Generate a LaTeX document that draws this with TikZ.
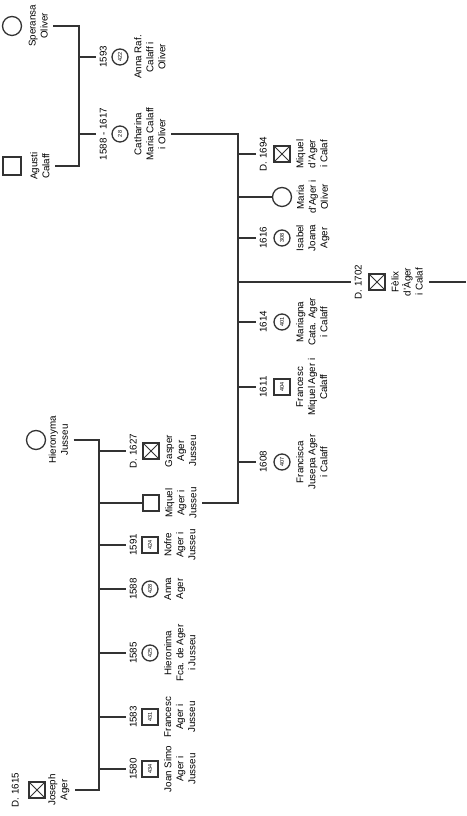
\documentclass[tikz,border=0pt]{standalone}
\usepackage{fontspec}
\setmainfont{Liberation Sans}
\usetikzlibrary{positioning}
\definecolor{ink}{HTML}{333333}

\begin{document}
\begin{tikzpicture}[x=1pt,y=-1pt,rotate=90,transform shape,
  font=\fontsize{9.8}{12}\selectfont,
  rel/.style={draw=ink,line width=1.4pt},
  male/.style={rectangle,draw=ink,line width=1.3pt,minimum size=16pt,inner sep=0pt},
  female/.style={circle,draw=ink,line width=1.3pt,minimum size=19pt,inner sep=0pt},
  fnum/.style={female,minimum size=16pt,font=\fontsize{5.5}{5.5}\selectfont},
  mnum/.style={male,font=\fontsize{5.5}{5.5}\selectfont},
  dead/.style={male,path picture={\draw[ink,line width=.8pt]
      (path picture bounding box.north west) -- (path picture bounding box.south east)
      (path picture bounding box.south west) -- (path picture bounding box.north east);}},
  who/.style={align=center,inner sep=.5pt},
  yr/.style={inner sep=.5pt}]
\useasboundingbox (0,0) rectangle (816,466);

% bus lines of the three couples
\coordinate (calaf) at (0,79);
\coordinate (ager) at (0,99);
\coordinate (main) at (0,238);
\coordinate (out) at (0,466);

% Agusti Calaff x Speransa Oliver
\node[female] (spe) at (790,12) {};
\node[who,below=6pt of spe] (speN) {Speransa\\Oliver};
\node[male,minimum size=18pt] (agu) at (650,12) {};
\node[who,below=8pt of agu] (aguN) {Agusti\\Calaff};
\draw[rel] ([yshift=-5pt]speN.south) -- (speN |- calaf) -- (aguN |- calaf) -- ([yshift=-5pt]aguN.south);

\foreach \id/\u/\nr/\dt/\txt in {anna/759/422/1593/{Anna Raf.\\Calaff i\\Oliver},
    cath/682/28/1588 - 1617/{Catharina\\Maria Calaff\\i Oliver}}{
  \node[fnum] (\id) at (\u,120) {\nr};
  \node[yr,above=4pt of \id] (\id Y) {\dt};
  \node[who,below=5pt of \id] (\id N) {\txt};
  \draw[rel] (\id Y |- calaf) -- ([yshift=3pt]\id Y.north);
}

% Joseph Ager x Hieronyma Jusseu
\node[female] (hie) at (376,36) {};
\node[who,below=2pt of hie] (hieN) {Hieronyma\\Jusseu};
\node[dead] (jos) at (26,37) {};
\node[yr,above=9pt of jos] (josY) {D. 1615};
\node[who,below=2pt of jos] (josN) {Joseph\\Ager};
\draw[rel] ([yshift=-5pt]hieN.south) -- (hieN |- ager) -- (josN |- ager) -- ([yshift=-5pt]josN.south);

\node[dead] (gas) at (365,151) {};
\node[yr,above=5pt of gas] (gasY) {D. 1627};
\node[who,below=5pt of gas] (gasN) {Gasper\\Ager\\Jusseu};
\draw[rel] (gasY |- ager) -- ([yshift=3pt]gasY.north);
\node[male] (miq) at (313,151) {};
\node[who,below=5pt of miq] (miqN) {Miquel\\Ager i\\Jusseu};
\draw[rel] (miq |- ager) -- (miq.north);

\foreach \id/\u/\s/\nr/\dt/\txt in {nof/271/mnum/424/1591/{Nofre\\Ager i\\Jusseu},
    ann/227/fnum/428/1588/{Anna\\Ager},
    hfc/163/fnum/425/1585/{Hieronima\\Fca. de Ager\\i Jusseu},
    fra/99/mnum/431/1583/{Francesc\\Ager i\\Jusseu},
    joa/47/mnum/434/1580/{Joan Simo\\Ager i\\Jusseu}}{
  \node[\s] (\id) at (\u,150) {\nr};
  \node[yr,above=4pt of \id] (\id Y) {\dt};
  \node[who,below=5pt of \id] (\id N) {\txt};
  \draw[rel] (\id Y |- ager) -- ([yshift=3pt]\id Y.north);
}

% Miquel Ager i Jusseu x Catharina Maria Calaff i Oliver
\draw[rel] ([yshift=-5pt]cathN.south) -- (cathN |- main) -- (miqN |- main) -- ([yshift=-5pt]miqN.south);

\node[dead] (mdc) at (662,282) {};
\node[yr,above=6pt of mdc] (mdcY) {D. 1694};
\node[who,below=5pt of mdc] (mdcN) {Miquel\\d'Ager\\i Calaf};
\draw[rel] (mdcY |- main) -- ([yshift=3pt]mdcY.north);
\node[female] (mar) at (619,282) {};
\node[who,below=4pt of mar] (marN) {Maria\\d'Ager i\\Oliver};
\draw[rel] (mar |- main) -- (mar.north);

\foreach \id/\u/\s/\nr/\dt/\txt in {isa/578/fnum/308/1616/{Isabel\\Joana\\Ager},
    mgn/494/fnum/401/1614/{Mariagna\\Cata. Ager\\i Calaff},
    fmq/429/mnum/404/1611/{Francesc\\Miquel Ager i\\Calaff},
    fjs/354/fnum/407/1608/{Francisca\\Jusepa Ager\\i Calaff}}{
  \node[\s] (\id) at (\u,282) {\nr};
  \node[yr,above=6pt of \id] (\id Y) {\dt};
  \node[who,below=5pt of \id] (\id N) {\txt};
  \draw[rel] (\id Y |- main) -- ([yshift=3pt]\id Y.north);
}

\node[dead] (fel) at (534,377) {};
\node[yr,above=6pt of fel] (felY) {D. 1702};
\node[who,below=5pt of fel] (felN) {Fèlix\\d'Àger\\i Calaf};
\draw[rel] (felY |- main) -- ([yshift=3pt]felY.north);
\draw[rel] ([yshift=-6pt]felN.south) -- (felN |- out);
\end{tikzpicture}
\end{document}
